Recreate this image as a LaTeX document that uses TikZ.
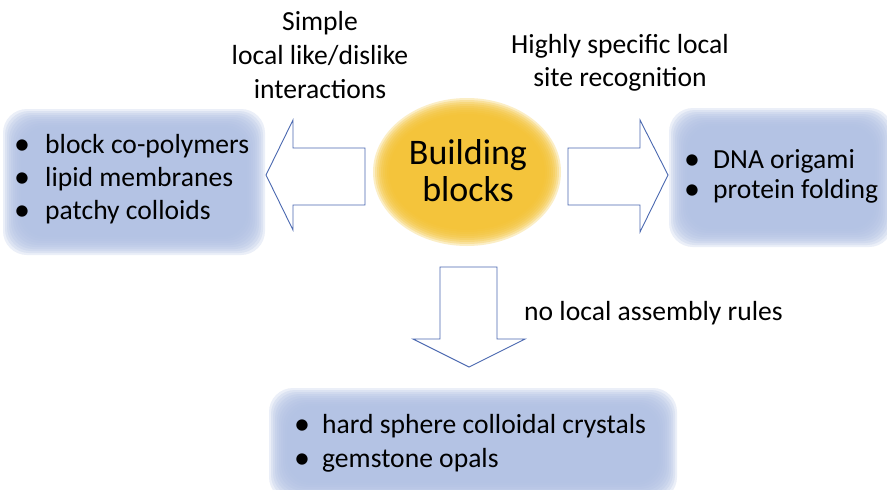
\documentclass[tikz,border=0pt]{standalone}
\usepackage{fontspec}
\setmainfont{Carlito}
\definecolor{boxblue}{HTML}{B2C2E4}
\definecolor{gold}{HTML}{F4C232}
\definecolor{arrowline}{HTML}{4A68B0}
\newcommand\blurbox[4]{%
  \foreach \i in {0,...,9}{%
    \fill[boxblue,opacity=0.26,rounded corners=24pt] ({#1+9-2*\i},{#2+9-2*\i}) rectangle ({#3-9+2*\i},{#4-9+2*\i});}%
}
\begin{document}
\begin{tikzpicture}[x=1pt,y=-1pt,
  lbl/.style={inner sep=0pt,font=\fontsize{27.6}{33}\selectfont,anchor=base},
  item/.style={inner sep=0pt,font=\fontsize{27.6}{33}\selectfont,anchor=base west},
  bul/.style={inner sep=0pt,font=\fontsize{32}{33}\selectfont,anchor=base west},
  bigarrow/.style={draw=arrowline,line width=0.9pt,fill=white,line join=miter}]
\useasboundingbox (0,0) rectangle (887,490);
\fill[white] (0,0) rectangle (887,490);
% boxes
\blurbox{12}{118}{256}{246}
\blurbox{678}{117}{884}{238}
\blurbox{278}{397}{668}{492}
% ellipse
\foreach \i in {0,...,8}{%
  \fill[gold,opacity=0.28] (467,172) ellipse [x radius={78+2*\i}, y radius={58+2*\i}];}
\node[lbl,font=\fontsize{36}{40}\selectfont] (b1) at (468,164) {Building};
\node[lbl,font=\fontsize{36}{40}\selectfont] (b2) at (468,201) {blocks};
% arrows
\draw[bigarrow] (365,148) -- (293,148) -- (293,120) -- (266,175) -- (293,230) -- (293,205) -- (365,205) -- cycle;
\draw[bigarrow] (568,148) -- (640,148) -- (640,120) -- (668,175) -- (640,232) -- (640,205) -- (568,205) -- cycle;
\draw[bigarrow] (440,267) -- (497,267) -- (497,339) -- (525,339) -- (469,367) -- (413,339) -- (440,339) -- cycle;
% labels
\node[lbl] (s1) at (320,30) {Simple};
\node[lbl] (s2) at (320,64) {local like/dislike};
\node[lbl] (s3) at (320,98) {interactions};
\node[lbl] (h1) at (620,53) {Highly specific local};
\node[lbl] (h2) at (620,86) {site recognition};
\node[item] (n1) at (524,320) {no local assembly rules};
% left items
\node[bul] (lb1) at (14,154) {•};
\node[item] (l1) at (45,153) {block co-polymers};
\node[bul] (lb2) at (14,187) {•};
\node[item] (l2) at (45,186) {lipid membranes};
\node[bul] (lb3) at (14,220) {•};
\node[item] (l3) at (45,219) {patchy colloids};
% right items
\node[bul] (rb1) at (684,169) {•};
\node[item] (r1) at (713,168) {DNA origami};
\node[bul] (rb2) at (684,199) {•};
\node[item] (r2) at (713,198) {protein folding};
% bottom items
\node[bul] (bb1) at (294,434) {•};
\node[item] (bt1) at (322,433) {hard sphere colloidal crystals};
\node[bul] (bb2) at (294,468) {•};
\node[item] (bt2) at (322,467) {gemstone opals};
\end{tikzpicture}
\end{document}
